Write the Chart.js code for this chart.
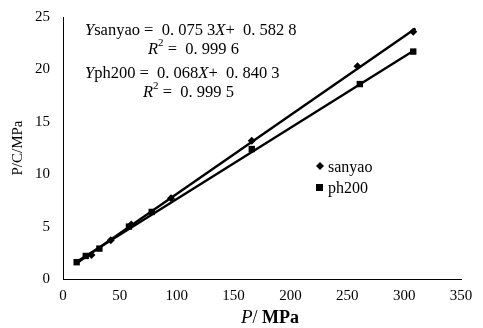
<!DOCTYPE html>
<html>
<head>
<meta charset="utf-8">
<script src="https://cdn.jsdelivr.net/npm/chart.js@4/dist/chart.umd.min.js"></script>
<style>
  html, body { margin: 0; padding: 0; background: #fff; }
  #wrap { width: 483px; height: 328px; }
</style>
</head>
<body>
<div id="wrap"><canvas id="c" width="483" height="328"></canvas></div>
<script>
// data
const sanyaoX = [25, 42, 60, 95, 166, 259, 308];
const sanyaoY = [2.3, 3.7, 5.2, 7.7, 13.2, 20.3, 23.6];
const ph200X = [12, 20, 32, 58, 78, 166, 261, 308];
const ph200Y = [1.6, 2.2, 2.9, 5.0, 6.4, 12.4, 18.6, 21.7];
// trend line end points
const trendX = [12, 310];
const sanyaoTrend = [1.5, 23.9];
const ph200Trend = [1.65, 21.9];
const xTicks = [0, 50, 100, 150, 200, 250, 300, 350];
const yTicks = [0, 5, 10, 15, 20, 25];

const FONT = '"Liberation Serif", "DejaVu Serif", serif';
const pts = (xs, ys) => xs.map((x, i) => ({ x: x, y: ys[i] }));

// equations, legend and x title drawn on top
const notes = {
    id: 'notes',
    afterDraw(chart) {
        const ctx = chart.ctx;
        ctx.save();
        ctx.fillStyle = '#000';
        ctx.textBaseline = 'alphabetic';

        function eq(x, y, parts) {
            let cx = x;
            parts.forEach(p => {
                ctx.font = p[1];
                ctx.fillText(p[0], cx, y + (p[2] || 0));
                cx += ctx.measureText(p[0]).width;
            });
            return cx;
        }
        const it = 'italic 16.5px ' + FONT, rg = '16.5px ' + FONT, sm = '11px ' + FONT;
        eq(85, 35, [['Y', it], ['sanyao', rg], [' =  0. 075 3', rg], ['X', it], ['+  0. 582 8', rg]]);
        eq(148, 54, [['R', it], ['2', sm, -8], [' =  0. 999 6', rg]]);
        eq(85, 78, [['Y', it], ['ph200', rg], [' =  0. 068', rg], ['X', it], ['+  0. 840 3', rg]]);
        eq(143, 97, [['R', it], ['2', sm, -8], [' =  0. 999 5', rg]]);

        // legend
        ctx.font = '16px ' + FONT;
        ctx.fillText('sanyao', 328, 172);
        ctx.fillText('ph200', 328, 193);
        ctx.beginPath();
        ctx.moveTo(320, 162); ctx.lineTo(324, 166); ctx.lineTo(320, 170); ctx.lineTo(316, 166);
        ctx.closePath(); ctx.fill();
        ctx.fillRect(316, 184, 7, 7);

        // x axis title: italic P, bold MPa
        const parts = [['P', 'italic 19px ' + FONT], ['/ ', '18px ' + FONT], ['MPa', 'bold 18px ' + FONT]];
        let w = 0;
        parts.forEach(p => { ctx.font = p[1]; w += ctx.measureText(p[0]).width; });
        const ca = chart.chartArea;
        eq((ca.left + ca.right) / 2 - w / 2 + 8, 323, parts);
        ctx.restore();
    }
};

new Chart(document.getElementById('c'), {
    type: 'scatter',
    data: {
        datasets: [
            { label: 'sanyao', data: pts(sanyaoX, sanyaoY), pointStyle: 'rectRot', pointRadius: 4,
              backgroundColor: '#000', borderColor: '#000', borderWidth: 0, showLine: false },
            { label: 'ph200', data: pts(ph200X, ph200Y), pointStyle: 'rect', pointRadius: 4.5,
              backgroundColor: '#000', borderColor: '#000', borderWidth: 0, showLine: false },
            { label: 'sanyao fit', data: pts(trendX, sanyaoTrend), showLine: true, pointRadius: 0,
              borderColor: '#000', borderWidth: 2.4 },
            { label: 'ph200 fit', data: pts(trendX, ph200Trend), showLine: true, pointRadius: 0,
              borderColor: '#000', borderWidth: 2.4 }
        ]
    },
    options: {
        responsive: false,
        animation: false,
        layout: { padding: { top: 16, right: 22, left: 0, bottom: 0 } },
        plugins: { legend: { display: false }, tooltip: { enabled: false } },
        scales: {
            x: {
                type: 'linear', min: 0, max: 350,
                afterBuildTicks: s => { s.ticks = xTicks.map(v => ({ value: v })); },
                afterFit: s => { s.height = 49; },
                grid: { display: false, drawTicks: true, tickLength: 5, tickColor: '#000' },
                border: { color: '#000', width: 1 },
                ticks: { color: '#000', font: { family: FONT, size: 15 }, padding: 3, maxRotation: 0 },
                title: { display: false }
            },
            y: {
                type: 'linear', min: 0, max: 25,
                afterBuildTicks: s => { s.ticks = yTicks.map(v => ({ value: v })); },
                afterFit: s => { s.width = 63; },
                grid: { display: false, drawTicks: true, tickLength: 5, tickColor: '#000' },
                border: { color: '#000', width: 1 },
                ticks: { color: '#000', font: { family: FONT, size: 15 }, padding: 8 },
                title: { display: true, text: 'P/C/MPa', color: '#000', font: { family: FONT, size: 15 }, padding: { top: 9, bottom: 0 } }
            }
        }
    },
    plugins: [notes]
});
</script>
</body>
</html>
